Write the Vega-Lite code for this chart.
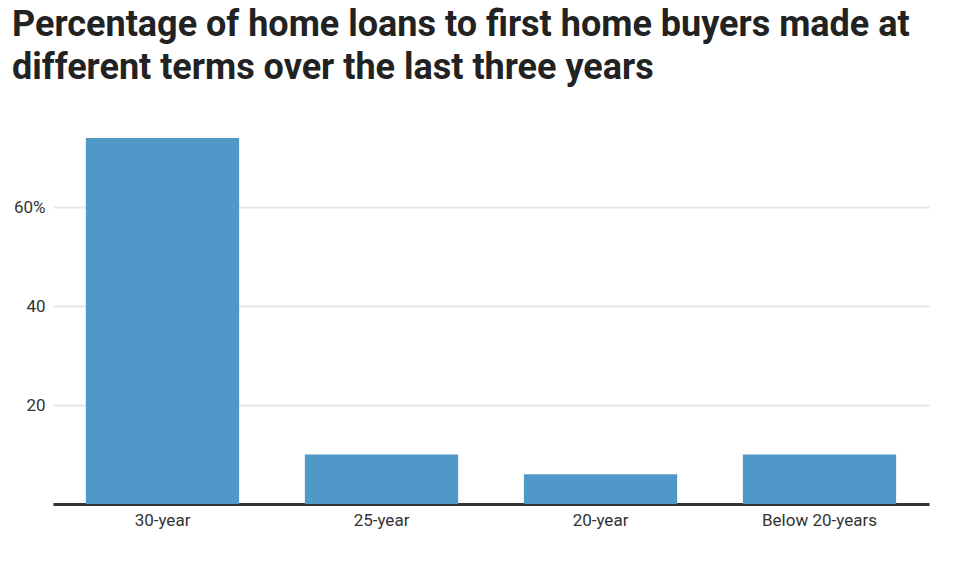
{
  "$schema": "https://vega.github.io/schema/vega-lite/v6.json",
  "width": 876,
  "height": 366,
  "autosize": {"type": "none"},
  "padding": {"left": 53, "top": 138, "right": 27, "bottom": 60},
  "background": "white",
  "title": {
    "text": ["Percentage of home loans to first home buyers made at", "different terms over the last three years"],
    "anchor": "start",
    "frame": "group",
    "dx": -41,
    "offset": 51,
    "font": "Roboto",
    "fontSize": 36,
    "fontWeight": "bold",
    "lineHeight": 43,
    "color": "#222222"
  },
  "data": {
    "values": [
      {"term": "30-year", "pct": 74},
      {"term": "25-year", "pct": 10},
      {"term": "20-year", "pct": 6},
      {"term": "Below 20-years", "pct": 10}
    ]
  },
  "mark": {"type": "bar", "color": "#5098c8"},
  "encoding": {
    "x": {
      "field": "term",
      "type": "nominal",
      "sort": null,
      "scale": {"paddingInner": 0.3, "paddingOuter": 0.15},
      "axis": {
        "title": null,
        "labelAngle": 0,
        "labelFont": "Roboto",
        "labelFontSize": 17,
        "labelColor": "#333333",
        "labelPadding": 8,
        "ticks": false,
        "domainColor": "#333333",
        "domainWidth": 3
      }
    },
    "y": {
      "field": "pct",
      "type": "quantitative",
      "scale": {"domain": [0, 74], "nice": false},
      "axis": {
        "title": null,
        "values": [0, 20, 40, 60],
        "labelExpr": "datum.value == 60 ? '60%' : (datum.value == 0 ? '' : datum.label)",
        "labelFont": "Roboto",
        "labelFontSize": 17,
        "labelColor": "#333333",
        "labelPadding": 8,
        "ticks": false,
        "domain": false,
        "gridColor": "#e6e6e6",
        "gridWidth": 2
      }
    }
  },
  "config": {"view": {"stroke": null}}
}
